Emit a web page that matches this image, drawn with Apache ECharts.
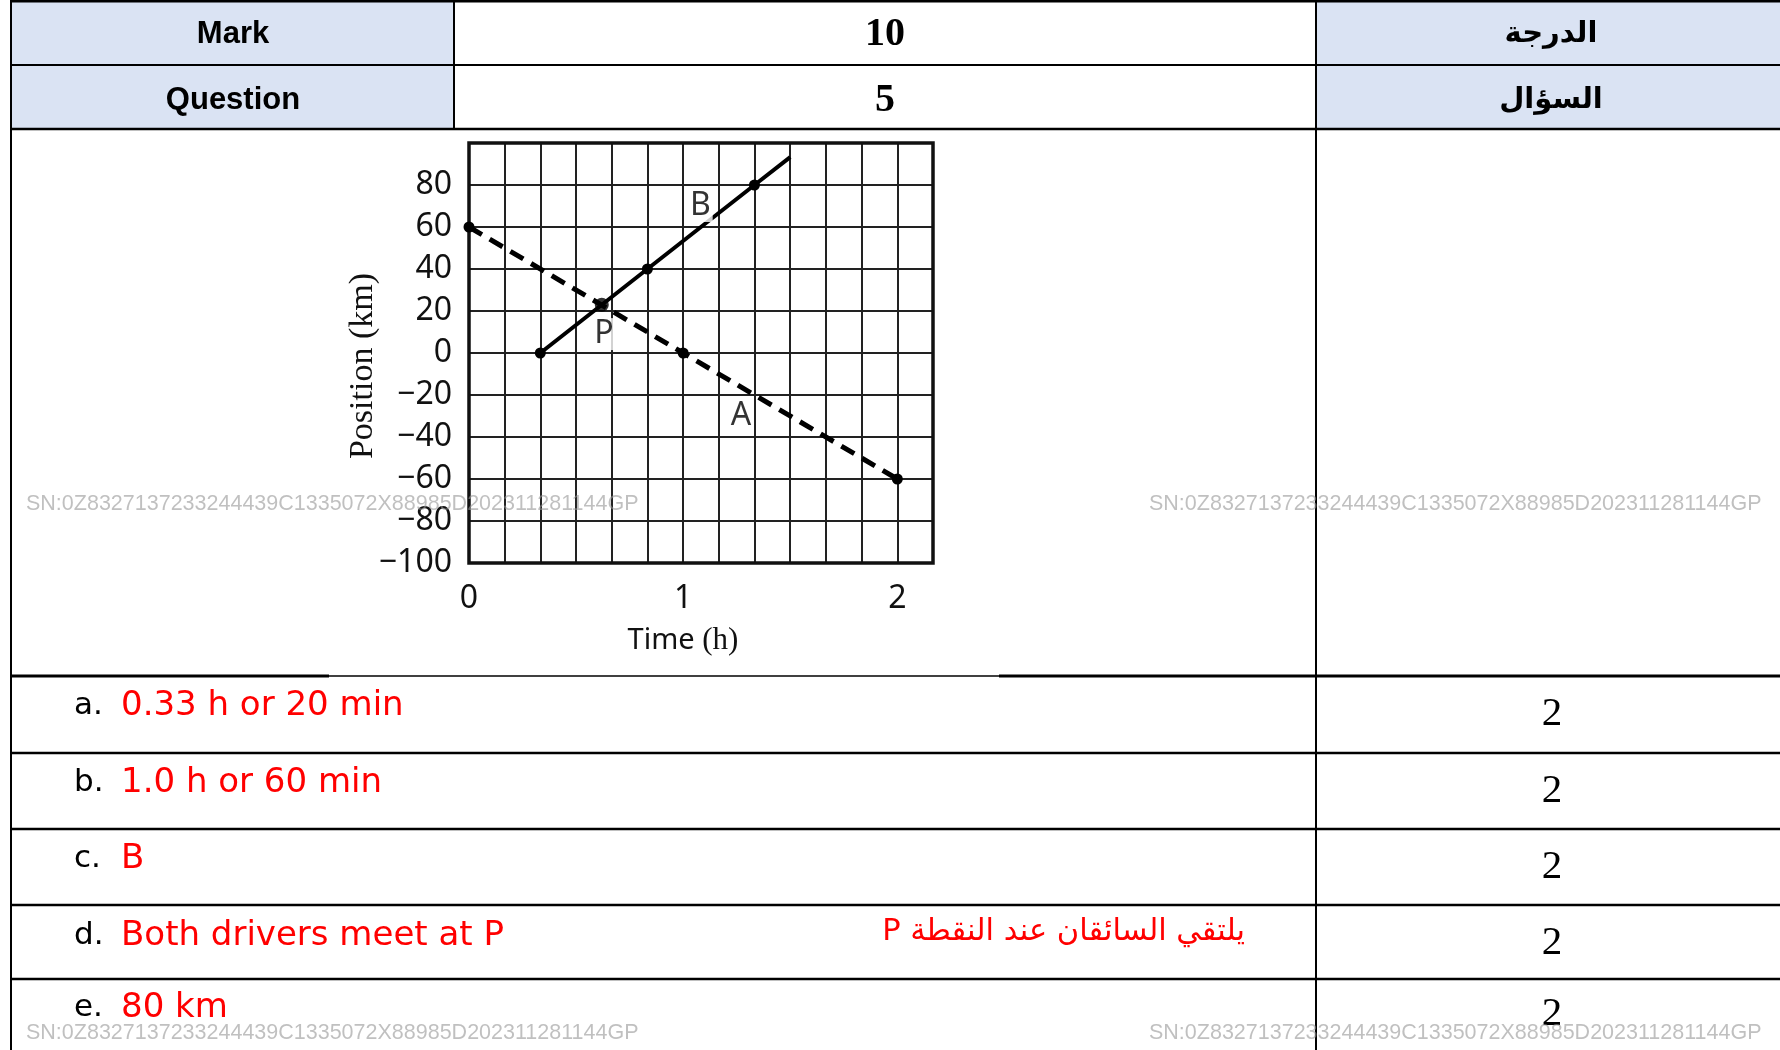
<!DOCTYPE html>
<html>
<head>
<meta charset="utf-8">
<title>Position-time graph</title>
<script src="https://cdn.jsdelivr.net/npm/echarts@6/dist/echarts.min.js"></script>
<style>
  html, body { margin: 0; padding: 0; background: #fff; }
  #main { width: 1780px; height: 1050px; }
</style>
</head>
<body>
<div id="main"></div>
<script>
// chart values
const timeTicks = [0, 1, 2];
const positionTicks = [80, 60, 40, 20, 0, -20, -40, -60, -80, -100];
const driverA = [[0, 60], [1, 0], [2, -60]];
const driverB = [[0.333, 0], [0.833, 40], [1.333, 80], [1.5, 93.3]];
const meetingP = [[0.62, 23]];
const lineLabels = [[1.08, 70, "B"], [0.63, 9, "P"], [1.27, -30, "A"]];

// table texts
const headerRows = [["Mark", "10", "الدرجة"], ["Question", "5", "السؤال"]];
const answerLetters = ["a.", "b.", "c.", "d.", "e."];
const answerTexts = ["0.33 h or 20 min", "1.0 h or 60 min", "B", "Both drivers meet at P", "80 km"];
const answerMarks = ["2", "2", "2", "2", "2"];
const arabicNote = "يلتقي السائقان عند النقطة P";
const watermark = "SN:0Z8327137233244439C1335072X88985D202311281144GP";

const SANS = "'Noto Sans', 'Open Sans', sans-serif";
const SERIF = "'Liberation Serif', 'DejaVu Serif', serif";
const HEADER_BG = "#dae3f3";

const rowTops = [676, 753, 829, 905, 979];
const headerLines = [1, 65, 129];
const COL_LEFT = 11;
const COL_MID = 454;
const COL_RIGHT = 1316;

const isTick = (ticks, v) => ticks.some((t) => Math.abs(t - v) < 1e-6);
const fmtNum = (v) => (v < 0 ? "\u2212" + Math.abs(v) : String(v));

const hline = (y, x1, x2, w) => ({
  type: "line",
  shape: { x1: x1, y1: y, x2: x2, y2: y },
  style: { stroke: "#000", lineWidth: w },
  z: 50,
});
const vline = (x, y1, y2, w) => ({
  type: "line",
  shape: { x1: x, y1: y1, x2: x, y2: y2 },
  style: { stroke: "#000", lineWidth: w },
  z: 50,
});
const text = (str, x, y, font, fill, align, z) => ({
  type: "text",
  z: z || 60,
  style: {
    text: str,
    x: x,
    y: y,
    font: font,
    fill: fill,
    align: align || "center",
    verticalAlign: "middle",
  },
});

const graphics = [];

// header cells
graphics.push({ type: "rect", shape: { x: COL_LEFT, y: 1, width: COL_MID - COL_LEFT, height: 128 }, style: { fill: HEADER_BG }, z: 1 });
graphics.push({ type: "rect", shape: { x: COL_RIGHT, y: 1, width: 1780 - COL_RIGHT, height: 128 }, style: { fill: HEADER_BG }, z: 1 });

headerRows.forEach((row, i) => {
  const cy = (headerLines[i] + headerLines[i + 1]) / 2 + 1 + i * 2;
  graphics.push(text(row[0], 233, cy, "bold 31px 'Liberation Sans', Arial, sans-serif", "#000"));
  graphics.push(text(row[1], 885, cy + 1, "bold 40px " + SERIF, "#000"));
  graphics.push(text(row[2], 1551, cy, "bold 29px 'DejaVu Sans', sans-serif", "#000"));
});

// table lines
graphics.push(hline(1, COL_LEFT, 1780, 3));
graphics.push(hline(65, COL_LEFT, 1780, 2));
graphics.push(hline(129, COL_LEFT, 1780, 2.5));
graphics.push(vline(COL_LEFT, 0, 1050, 2));
graphics.push(vline(COL_MID, 0, 129, 2));
graphics.push(vline(COL_RIGHT, 0, 1050, 2));
graphics.push(hline(rowTops[0], COL_LEFT, 329, 3));
graphics.push(hline(rowTops[0], 329, 999, 1.5));
graphics.push(hline(rowTops[0], 999, 1780, 3));
rowTops.slice(1).forEach((y) => graphics.push(hline(y, COL_LEFT, 1780, 2.5)));

// answers
const rowTextY = [706, 783, 859, 936, 1008];
const markY = [714, 791, 867, 943, 1014];
answerTexts.forEach((t, i) => {
  graphics.push(text(answerLetters[i], 74, rowTextY[i], "31px 'DejaVu Sans', sans-serif", "#000", "left"));
  graphics.push(text(t, 121, rowTextY[i], "34px 'DejaVu Sans', sans-serif", "#ff0000", "left"));
  graphics.push(text(answerMarks[i], 1552, markY[i], "41px " + SERIF, "#000"));
});
// right-to-left run so the trailing P sits on the left as in the sheet
graphics.push(text("\u202B" + arabicNote + "\u202C", 1245, 932, "30.5px 'DejaVu Sans', sans-serif", "#ff0000", "right"));

// watermarks
[[26, 504], [1149, 504], [26, 1033], [1149, 1033]].forEach((p) => {
  graphics.push(text(watermark, p[0], p[1], "21.5px 'Liberation Sans', Arial, sans-serif", "rgba(150,150,150,0.6)", "left", 200));
});

const chart = echarts.init(document.getElementById("main"));

chart.setOption({
  animation: false,
  backgroundColor: "#fff",
  grid: {
    left: 469,
    top: 143,
    width: 464,
    height: 420,
    show: true,
    borderColor: "#111",
    borderWidth: 3.5,
    backgroundColor: "transparent",
    z: 3,
  },
  xAxis: {
    type: "value",
    min: 0,
    max: 13 / 6,
    interval: 1 / 6,
    name: "{s|Time }{r|(h)}",
    nameLocation: "middle",
    nameGap: 62,
    nameMoveOverlap: false,
    nameTextStyle: {
      padding: [0, 36, 0, 0],
      rich: {
        s: { fontFamily: SANS, fontSize: 29, color: "#111" },
        r: { fontFamily: SERIF, fontSize: 31, color: "#111" },
      },
    },
    axisLine: { show: false },
    axisTick: { show: false },
    axisLabel: {
      margin: 20,
      fontFamily: SANS,
      fontSize: 32,
      color: "#111",
      formatter: (v) => (isTick(timeTicks, v) ? String(Math.round(v)) : ""),
    },
    splitLine: { show: true, lineStyle: { color: "#222", width: 2 } },
  },
  yAxis: {
    type: "value",
    min: -100,
    max: 100,
    interval: 20,
    name: "Position (km)",
    nameLocation: "middle",
    nameGap: 89,
    nameMoveOverlap: false,
    nameRotate: 90,
    nameTextStyle: { fontFamily: SERIF, fontSize: 34, color: "#111", padding: [0, 26, 0, 0] },
    axisLine: { show: false },
    axisTick: { show: false },
    axisLabel: {
      margin: 17,
      fontFamily: SANS,
      fontSize: 32,
      color: "#111",
      formatter: (v) => (isTick(positionTicks, v) ? fmtNum(v) : ""),
    },
    splitLine: { show: true, lineStyle: { color: "#222", width: 2 } },
  },
  graphic: graphics,
  series: [
    {
      name: "A",
      type: "line",
      data: driverA,
      symbol: "circle",
      symbolSize: 11,
      itemStyle: { color: "#000" },
      lineStyle: { color: "#000", width: 5, type: [15, 9] },
      z: 5,
    },
    {
      name: "B",
      type: "line",
      data: driverB.map((p, i) => (i === driverB.length - 1 ? { value: p, symbol: "none" } : p)),
      symbol: "circle",
      symbolSize: 11,
      itemStyle: { color: "#000" },
      lineStyle: { color: "#000", width: 4 },
      z: 6,
    },
    {
      name: "P",
      type: "scatter",
      data: meetingP,
      symbolSize: 14,
      itemStyle: { color: "#000" },
      z: 7,
    },
    {
      name: "labels",
      type: "scatter",
      data: lineLabels,
      symbolSize: 0,
      label: {
        show: true,
        position: "inside",
        formatter: (p) => p.value[2],
        fontFamily: SANS,
        fontSize: 32,
        color: "#000",
        backgroundColor: "#fff",
        padding: [0, 2],
      },
      z: 8,
    },
  ],
});
</script>
</body>
</html>
